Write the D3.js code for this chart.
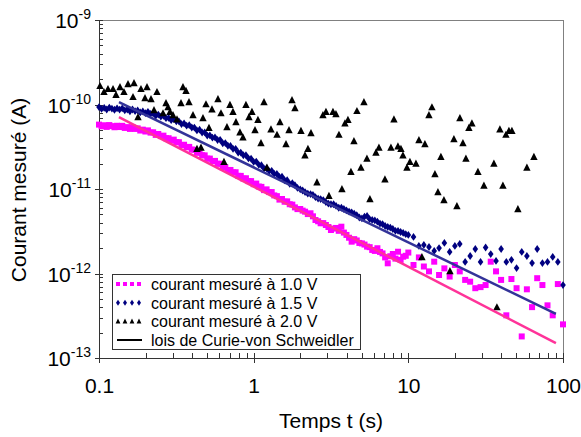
<!DOCTYPE html>
<html><head><meta charset="utf-8">
<script src="https://cdn.jsdelivr.net/npm/d3@7/dist/d3.min.js"></script>
<style>
html,body{margin:0;padding:0;background:#fff;}
svg text{font-family:"Liberation Sans",Arial,sans-serif;fill:#000;}
</style></head>
<body><svg id="c" width="581" height="437"></svg>
<script>
// ---- data ----
const times = [0.1,0.1039,0.108,0.1122,0.1166,0.1212,0.1259,0.1308,0.1359,0.1413,0.1468,0.1525,0.1585,0.1647,0.1711,0.1778,0.1848,0.192,0.1995,0.2073,
0.2154,0.2239,0.2326,0.2417,0.2512,0.261,0.2712,0.2818,0.2929,0.3043,0.3162,0.3286,0.3415,0.3548,0.3687,0.3831,0.3981,0.4137,0.4299,0.4467,
0.4642,0.4823,0.5012,0.5208,0.5412,0.5623,0.5843,0.6072,0.631,0.6557,0.6813,0.7079,0.7356,0.7644,0.7943,0.8254,0.8577,0.8913,0.9261,0.9624,
1.0,1.039,1.08,1.122,1.166,1.212,1.259,1.308,1.359,1.413,1.468,1.525,1.585,1.647,1.711,1.778,1.848,1.92,
2.0,2.073,2.15,2.239,2.33,2.417,2.51,2.61,2.71,2.818,2.93,3.043,3.16,3.286,3.41,3.548,3.69,3.831,3.98,4.137,
4.3,4.467,4.64,4.823,5.01,5.208,5.41,5.623,5.84,6.072,6.31,6.557,6.81,7.079,7.36,7.644,7.94,8.254,8.58,8.913,9.26,9.624,
10,10.8,11.7,12.6,13.6,14.7,15.8,17.1,18.5,20,21.5,23.3,25.1,27.1,29.3,31.6,34.1,36.9,39.8,43,46.4,50.1,54.1,58.4,63.1,68.1,73.6,79.4,85.8,92.6,100];

const current10V = [5.78e-11,5.52e-11,5.68e-11,5.43e-11,5.71e-11,5.55e-11,5.38e-11,5.60e-11,5.41e-11,5.59e-11,
5.28e-11,5.40e-11,5.14e-11,5.38e-11,5.14e-11,5.22e-11,4.92e-11,5.04e-11,4.79e-11,4.94e-11,
4.65e-11,4.69e-11,4.37e-11,4.48e-11,4.23e-11,4.28e-11,3.99e-11,3.99e-11,3.74e-11,3.84e-11,
3.58e-11,3.58e-11,3.30e-11,3.34e-11,3.12e-11,3.15e-11,2.93e-11,2.91e-11,2.68e-11,2.73e-11,
2.51e-11,2.50e-11,2.29e-11,2.29e-11,2.14e-11,2.15e-11,1.99e-11,1.99e-11,1.81e-11,1.81e-11,
1.68e-11,1.68e-11,1.57e-11,1.58e-11,1.43e-11,1.43e-11,1.33e-11,1.34e-11,1.24e-11,1.24e-11,
1.14e-11,1.16e-11,1.07e-11,1.06e-11,9.7e-12,9.9e-12,9.2e-12,9.2e-12,8.4e-12,8.23e-12,
7.49e-12,7.62e-12,7.07e-12,7.14e-12,6.6e-12,6.53e-12,6.06e-12,5.78e-12,
5.80e-12,5.55e-12,5.39e-12,5.05e-12,5.16e-12,4.75e-12,4.30e-12,4.15e-12,3.93e-12,3.95e-12,
3.75e-12,3.55e-12,3.27e-12,3.40e-12,3.46e-12,3.20e-12,3.58e-12,3.05e-12,2.86e-12,2.65e-12,
2.38e-12,2.55e-12,2.46e-12,2.30e-12,2.27e-12,2.20e-12,2.08e-12,2.05e-12,1.90e-12,1.85e-12,
1.99e-12,1.80e-12,1.73e-12,1.55e-12,1.32e-12,1.60e-12,1.70e-12,1.50e-12,1.81e-12,1.45e-12,1.58e-12,1.62e-12,
1.77e-12,1.26e-12,1.55e-12,1.21e-12,1.06e-12,1.38e-12,9.6e-13,1.15e-12,9.2e-13,1.26e-12,
1.06e-12,8.4e-13,8.0e-13,6.7e-13,6.9e-13,7.3e-13,1.38e-12,1.06e-12,8.4e-13,3.2e-13,
8.6e-13,6.7e-13,1.8e-13,6.5e-13,4.0e-13,8.8e-13,7.3e-13,4.2e-13,3.2e-13,7.5e-13,2.5e-13];

const current15V = [9.32e-11,8.88e-11,9.13e-11,8.73e-11,9.19e-11,8.93e-11,8.67e-11,9.02e-11,8.71e-11,9.01e-11,
8.53e-11,8.73e-11,8.32e-11,8.73e-11,8.37e-11,8.52e-11,8.05e-11,8.28e-11,7.90e-11,8.18e-11,
7.75e-11,7.85e-11,7.34e-11,7.59e-11,7.20e-11,7.34e-11,6.88e-11,6.93e-11,6.53e-11,6.74e-11,
6.32e-11,6.33e-11,5.86e-11,5.97e-11,5.61e-11,5.69e-11,5.34e-11,5.33e-11,4.93e-11,5.04e-11,
4.66e-11,4.67e-11,4.29e-11,4.32e-11,4.05e-11,4.08e-11,3.80e-11,3.82e-11,3.48e-11,3.50e-11,
3.25e-11,3.23e-11,2.99e-11,2.99e-11,2.70e-11,2.70e-11,2.51e-11,2.51e-11,2.30e-11,2.28e-11,
2.09e-11,2.11e-11,1.93e-11,1.91e-11,1.75e-11,1.76e-11,1.63e-11,1.64e-11,1.51e-11,1.51e-11,
1.39e-11,1.40e-11,1.27e-11,1.27e-11,1.15e-11,1.17e-11,1.11e-11,1.03e-11,
9.9e-12,9.6e-12,9.2e-12,8.8e-12,8.7e-12,8.5e-12,8.0e-12,7.7e-12,7.6e-12,7.4e-12,
7.0e-12,6.7e-12,6.6e-12,6.6e-12,6.3e-12,6.0e-12,6.0e-12,5.8e-12,5.6e-12,5.4e-12,
5.3e-12,5.1e-12,4.9e-12,4.6e-12,4.5e-12,4.7e-12,4.8e-12,4.4e-12,4.3e-12,4.25e-12,
4.1e-12,3.9e-12,3.85e-12,3.65e-12,3.55e-12,3.5e-12,3.36e-12,3.2e-12,3.19e-12,3.1e-12,3.02e-12,2.92e-12,
2.86e-12,2.71e-12,2.12e-12,2.18e-12,2.06e-12,1.85e-12,2.00e-12,2.30e-12,1.80e-12,2.12e-12,
2.24e-12,1.37e-12,1.61e-12,1.95e-12,1.37e-12,2.03e-12,1.70e-12,1.41e-12,1.95e-12,1.37e-12,
1.45e-12,1.16e-12,1.80e-12,1.61e-12,1.33e-12,1.95e-12,1.33e-12,1.37e-12,1.57e-12,1.37e-12,7.3e-13];

const times20V = [0.1015,0.1077,0.1143,0.1232,0.1288,0.1367,0.145,0.154,0.1659,0.1684,0.1787,0.1868,0.1983,0.2043,0.2169,0.2268,0.2371,0.2593,0.2711,0.2793,0.2877,0.3008,0.3193,0.3389,0.3491,0.3651,0.3818,0.4052,0.43,0.4564,0.4702,0.4917,0.5141,0.5376,0.5877,0.6146,0.6427,0.672,0.7027,0.7348,0.7684,0.8154,0.8527,0.8916,0.9324,
0.975,1.02,1.066,1.115,1.166,1.219,1.294,1.415,1.479,1.618,1.692,1.769,1.849,2.022,2.146,2.244,2.347,2.566,2.805,2.934,3.068,3.256,3.404,3.56,3.722,3.892,4.07,4.256,4.45,4.653,4.938,5.164,5.4,5.646,6.174,6.456,7.059,7.719,8.071,8.567,8.958,9.229,9.795,
10.24,11.2,11.71,12.24,12.8,13.59,14.21,14.86,15.54,16.24,16.99,18.58,19.71,20.61,21.55,22.54,23.57,24.64,25.77,28.18,30.81,35.75,37.39,39.09,40.88,42.75,44.7,46.74,51.1,58.43,64.86];

const current20V = [1.66e-10,1.41e-10,1.53e-10,1.53e-10,1.30e-10,1.61e-10,1.41e-10,1.75e-10,1.23e-10,1.80e-10,7.1e-11,1.53e-10,1.19e-10,1.61e-10,1.16e-10,8.6e-11,1.41e-10,7.9e-11,1.04e-10,9.3e-11,8.2e-11,7.5e-11,6.7e-11,1.04e-10,1.61e-10,1.45e-10,1.07e-10,7.5e-11,3.0e-11,3.1e-11,6.9e-11,1.01e-10,5.3e-11,8.8e-11,1.16e-10,7.9e-11,2.1e-11,5.4e-11,9.9e-11,8.2e-11,6.2e-11,4.7e-11,4.1e-11,9.9e-11,7.1e-11,
8.2e-11,5.0e-11,6.6e-11,3.5e-11,1.07e-10,1.8e-11,5.1e-11,4.4e-11,6.2e-11,3.4e-11,5.0e-11,1.13e-10,9.1e-11,4.9e-11,2.5e-11,3.0e-11,4.6e-11,1.2e-11,7.5e-11,8.2e-11,8.3e-12,8.2e-11,7.7e-11,4.4e-11,1.0e-11,6.0e-11,6.6e-11,1.6e-11,3.7e-11,8.4e-11,1.8e-11,1.07e-10,2.3e-11,7.6e-12,2.7e-11,3.1e-11,1.3e-11,3.1e-11,6.7e-11,3.2e-11,3.0e-11,2.5e-11,1.8e-11,
2.1e-11,2.0e-11,3.8e-11,1.57e-12,3.4e-11,7.5e-11,9.3e-11,1.5e-11,9.2e-12,2.4e-11,7.4e-12,1.07e-12,3.9e-11,6.3e-12,6.9e-11,3.5e-11,2.3e-11,5.3e-11,6.0e-11,1.6e-11,1.1e-11,2.0e-11,4.0e-13,5.1e-11,1.1e-11,4.4e-11,4.9e-11,4.9e-11,5.8e-12,1.8e-11,2.4e-11];

// Curie-von Schweidler fits (end points)
const fitTimes = [0.1346, 90];
const fit10V = [7.11e-11, 1.5e-13];
const fit15V = [1.07e-10, 3.32e-13];

const xTickValues = [0.1, 1, 10, 100];
const xTickLabels = ["0.1", "1", "10", "100"];
const yTickValues = [1e-13, 1e-12, 1e-11, 1e-10, 1e-9];
const yTickExps = ["-13", "-12", "-11", "-10", "-9"];
const legendLabels = ["courant mesuré à 1.0 V", "courant mesuré à 1.5 V", "courant mesuré à 2.0 V", "lois de Curie-von Schweidler"];

// ---- layout ----
const L = 99, R = 563, T = 20, B = 358;
const svg = d3.select("#c");
const x = d3.scaleLog().domain([0.1, 100]).range([L, R]);
const y = d3.scaleLog().domain([1e-13, 1e-9]).range([B, T]);

const minorX = [], minorY = [];
[0.1, 1, 10].forEach(d => { for (let k = 2; k <= 9; k++) minorX.push(d * k); });
[1e-13, 1e-12, 1e-11, 1e-10].forEach(d => { for (let k = 2; k <= 9; k++) minorY.push(d * k); });

// frame (top/right)
svg.append("line").attr("x1", L).attr("x2", R).attr("y1", T + 0.5).attr("y2", T + 0.5).attr("stroke", "#808080");
svg.append("line").attr("x1", R + 0.5).attr("x2", R + 0.5).attr("y1", T).attr("y2", B).attr("stroke", "#808080");

function styleAxis(g) {
  g.select(".domain").remove();
  g.selectAll(".tick line").attr("stroke", "#333").attr("shape-rendering", "crispEdges");
}
// x axis
svg.append("g").attr("transform", `translate(0,${B})`)
  .call(d3.axisBottom(x).tickValues(minorX).tickSize(-5).tickFormat("")).call(styleAxis);
svg.append("g").attr("transform", `translate(0,${B})`)
  .call(d3.axisBottom(x).tickValues(xTickValues).tickSize(-5).tickFormat("")).call(styleAxis);
const gx = svg.append("g").attr("transform", `translate(0,${B})`)
  .call(d3.axisBottom(x).tickValues(xTickValues).tickSize(5).tickPadding(0)
    .tickFormat((d, i) => xTickLabels[i])).call(styleAxis);
gx.selectAll(".tick text").attr("font-size", 21).attr("y", 35).attr("dy", 0)
  .attr("font-family", "'Liberation Sans',Arial,sans-serif").attr("fill", "#000");

// y axis
svg.append("g").attr("transform", `translate(${L},0)`)
  .call(d3.axisLeft(y).tickValues(minorY).tickSize(-4).tickFormat("")).call(styleAxis);
svg.append("g").attr("transform", `translate(${L},0)`)
  .call(d3.axisLeft(y).tickValues(yTickValues).tickSize(-4).tickFormat("")).call(styleAxis);
svg.append("g").attr("transform", `translate(${L},0)`)
  .call(d3.axisLeft(y).tickValues(yTickValues).tickSize(4).tickFormat("")).call(styleAxis);

// axis lines
svg.append("line").attr("x1", L + 0.5).attr("x2", L + 0.5).attr("y1", T).attr("y2", B + 1).attr("stroke", "#333");
svg.append("line").attr("x1", L).attr("x2", R + 1).attr("y1", B + 0.5).attr("y2", B + 0.5).attr("stroke", "#333");

// y tick labels with superscripts
yTickValues.forEach((v, i) => {
  const t = svg.append("text").attr("x", 91).attr("y", y(v) + 8).attr("text-anchor", "end");
  t.append("tspan").attr("font-size", 21).text("10");
  t.append("tspan").attr("font-size", 14).attr("dy", -9).text(yTickExps[i]);
});

// titles
svg.append("text").attr("x", 331).attr("y", 428).attr("text-anchor", "middle").attr("font-size", 21).text("Temps t (s)");
svg.append("text").attr("transform", "translate(25.5,190) rotate(-90)").attr("text-anchor", "middle")
  .attr("font-size", 21).text("Courant mesuré (A)");

// ---- marks ----
const sq = "M-3,-3H3V3H-3Z";
const dia = "M0,-3.9L2.8,0L0,3.9L-2.8,0Z";
const tri = "M0,-4L3.7,3.2L-3.7,3.2Z";

svg.append("g").selectAll("path").data(times.map((t, i) => [t, current10V[i]])).join("path")
  .attr("d", sq).attr("fill", "#ff00ff").attr("transform", d => `translate(${x(d[0])},${y(d[1])})`);
svg.append("g").selectAll("path").data(times.map((t, i) => [t, current15V[i]])).join("path")
  .attr("d", dia).attr("fill", "#000080").attr("transform", d => `translate(${x(d[0])},${y(d[1])})`);
svg.append("g").selectAll("path").data(times20V.map((t, i) => [t, current20V[i]])).join("path")
  .attr("d", tri).attr("fill", "#000").attr("transform", d => `translate(${x(d[0])},${y(d[1])})`);

const line = d3.line().x(d => x(d[0])).y(d => y(d[1]));
svg.append("path").datum(fitTimes.map((t, i) => [t, fit15V[i]])).attr("d", line)
  .attr("fill", "none").attr("stroke", "#333399").attr("stroke-width", 2.5);
svg.append("path").datum(fitTimes.map((t, i) => [t, fit10V[i]])).attr("d", line)
  .attr("fill", "none").attr("stroke", "#ff3399").attr("stroke-width", 2.5);

// ---- legend ----
const lg = svg.append("g");
lg.append("rect").attr("x", 112.5).attr("y", 274.5).attr("width", 248).attr("height", 75)
  .attr("fill", "#fff").attr("stroke", "#333");
const rowsY = [284, 302.8, 321.4, 340];
const markX = [118, 125, 132, 139];
const legMarks = [{d: "M-2,-2H2V2H-2Z", c: "#ff00ff"}, {d: "M0,-3L2,0L0,3L-2,0Z", c: "#000080"}, {d: "M0,-2.8L2.4,2.2L-2.4,2.2Z", c: "#000"}];
legMarks.forEach((m, r) => {
  markX.forEach(mx => lg.append("path").attr("d", m.d).attr("fill", m.c).attr("transform", `translate(${mx},${rowsY[r]})`));
});
lg.append("line").attr("x1", 117).attr("x2", 142).attr("y1", rowsY[3]).attr("y2", rowsY[3]).attr("stroke", "#000").attr("stroke-width", 2);
legendLabels.forEach((s, r) => {
  lg.append("text").attr("x", 151).attr("y", rowsY[r] + 5.7).attr("font-size", 16).text(s);
});
</script></body></html>
